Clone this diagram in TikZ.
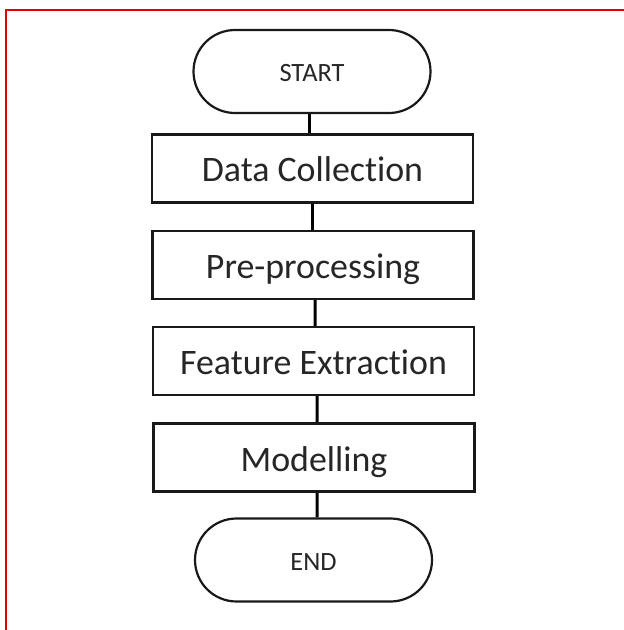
\documentclass[tikz,border=0pt]{standalone}
\usepackage{fontspec}
\setmainfont{Carlito}[Ligatures=CommonOff]
\usetikzlibrary{shapes.misc,calc}
\begin{document}
\begin{tikzpicture}[x=1bp,y=-1bp,
  frameline/.style={draw=red!90!black,line width=2bp},
  procbox/.style={draw=black!90,line width=2.4bp,minimum width=321bp,minimum height=68bp,inner sep=0pt,font=\fontsize{36}{40}\selectfont,text=black!85,text height=27bp,text depth=0pt},
  termbox/.style={draw=black!90,line width=2.2bp,rounded rectangle,minimum width=237bp,minimum height=83bp,inner sep=0pt,font=\fontsize{26.5}{30}\selectfont,text=black!85,text height=20bp,text depth=0pt},
  link/.style={draw=black,line width=3bp}]
\useasboundingbox (0,0) rectangle (624,630);
\fill[white] (0,0) rectangle (624,630);
\draw[frameline] (624,10) -- (6,10) -- (6,630);
\node[termbox] (start) at (312,71.5) {START};
\node[procbox] (data) at (312.5,168.5) {Data Collection};
\node[procbox] (pre) at (313,265) {Pre-processing};
\node[procbox] (feat) at (313.5,361) {Feature Extraction};
\node[procbox] (model) at (314,457.5) {Modelling};
\node[termbox] (end) at (313.5,560) {END};
\draw[link] ($(start.south)+(-3,0)$) -- ($(data.north)+(-3.5,0)$);
\draw[link] ($(data.south)+(-0.5,0)$) -- ($(pre.north)+(-1,0)$);
\draw[link] ($(pre.south)+(2,0)$) -- ($(feat.north)+(1.5,0)$);
\draw[link] ($(feat.south)+(3.5,0)$) -- ($(model.north)+(3,0)$);
\draw[link] ($(model.south)+(3,0)$) -- ($(end.north)+(3.5,0)$);
\end{tikzpicture}
\end{document}
